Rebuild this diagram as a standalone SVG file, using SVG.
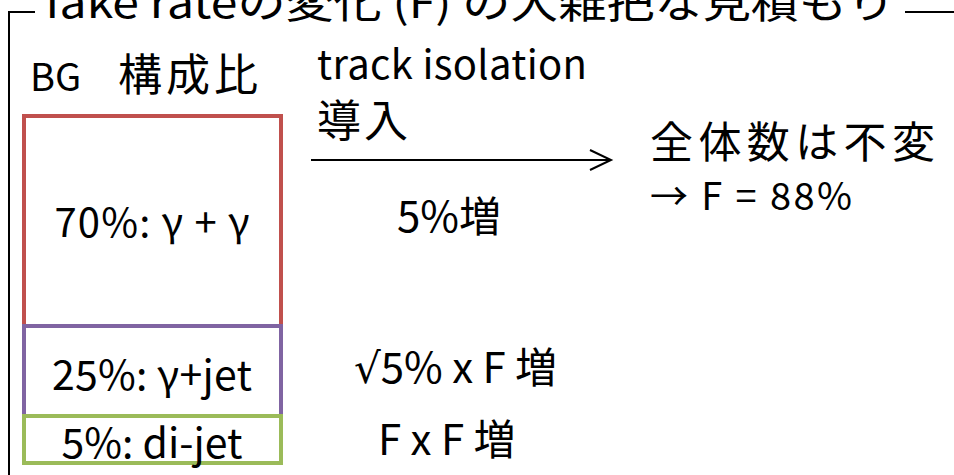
<svg xmlns="http://www.w3.org/2000/svg" width="954" height="475" viewBox="0 0 954 475">
<style>
text{font-family:"Noto Sans CJK JP","Noto Sans",sans-serif;fill:#000}
.box{fill:none;stroke-width:4}
.rt{font-family:"DejaVu Sans",sans-serif}
</style>
<rect width="954" height="475" fill="#fff"/>
<g id="frame">
<polyline points="35,12 9,12 9,475" fill="none" stroke="#000" stroke-width="2"/>
<line x1="905" y1="12" x2="954" y2="12" stroke="#000" stroke-width="2"/>
<text x="45" y="18" font-size="42" textLength="850" lengthAdjust="spacingAndGlyphs">fake rateの変化 (F) の大雑把な見積もり</text>
</g>
<g id="header">
<text x="30" y="91" font-size="38">BG</text>
<text x="118" y="91" font-size="44" textLength="140">構成比</text>
</g>
<g id="gg">
<rect class="box" x="24" y="116" width="257" height="210" stroke="#c0504d"/>
<text x="152" y="237" font-size="40" text-anchor="middle" textLength="195">70%: γ + γ</text>
</g>
<g id="gjet">
<rect class="box" x="24" y="326" width="257" height="90" stroke="#8064a2"/>
<text x="152" y="390" font-size="41" text-anchor="middle" textLength="200">25%: γ+jet</text>
</g>
<g id="dijet">
<rect class="box" x="24" y="416" width="257" height="47" stroke="#9bbb59"/>
<text x="152" y="458" font-size="41" text-anchor="middle" textLength="181">5%: di-jet</text>
</g>
<g id="connectors">
<line x1="311" y1="160" x2="611" y2="160" stroke="#000" stroke-width="2"/>
<polyline points="590,150 611,160 590,170" fill="none" stroke="#000" stroke-width="2"/>
</g>
<g id="labels">
<text x="317" y="79" font-size="40" textLength="270">track isolation</text>
<text x="317" y="137" font-size="44" textLength="91">導入</text>
<text x="397" y="232" font-size="42">5%増</text>
<text x="354" y="383" font-size="42"><tspan class="rt">√</tspan>5% x F 増</text>
<text x="378" y="455" font-size="42">F x F 増</text>
</g>
<g id="result">
<text x="650" y="158" font-size="43" textLength="285">全体数は不変</text>
<text x="650" y="210" font-size="38" textLength="202">→ F = 88%</text>
</g>
</svg>
